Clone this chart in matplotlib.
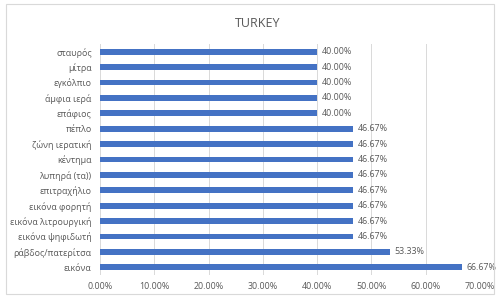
import matplotlib
matplotlib.use("Agg")
import matplotlib.pyplot as plt
from matplotlib.ticker import FuncFormatter, MultipleLocator
from matplotlib.patches import Rectangle

categories = ["εικόνα", "ράβδος/πατερίτσα", "εικόνα ψηφιδωτή", "εικόνα λιτρουργική",
              "εικόνα φορητή", "επιτραχήλιο", "λυπηρά (τα))", "κέντημα", "ζώνη ιερατική",
              "πέπλο", "επάφιος", "άμφια ιερά", "εγκόλπιο", "μίτρα", "σταυρός"]
values = [0.6667, 0.5333, 0.4667, 0.4667, 0.4667, 0.4667, 0.4667, 0.4667, 0.4667,
          0.4667, 0.40, 0.40, 0.40, 0.40, 0.40]
title = "TURKEY"

plt.rcParams['font.family'] = ['Open Sans', 'DejaVu Sans']
txt = '#595959'
fs = 6.4

fig = plt.figure(figsize=(5, 2.97), dpi=100)
fig.patches.append(Rectangle((0.012, 0.01), 0.976, 0.975, transform=fig.transFigure,
                             fill=False, edgecolor='#d9d9d9', linewidth=0.8))
ax = fig.add_axes([0.2, 0.074, 0.76, 0.778])

y = range(len(categories))
ax.barh(y, values, height=0.38, color='#4472C4', zorder=3)
for i, v in enumerate(values):
    ax.text(v + 0.009, i, f"{v*100:.2f}%", va='center', ha='left', fontsize=fs, color=txt)

ax.set_yticks(list(y))
ax.set_yticklabels(categories, fontsize=fs, color=txt)
ax.set_ylim(-0.5, len(categories) - 0.5)
ax.set_xlim(0, 0.70)
ax.xaxis.set_major_locator(MultipleLocator(0.1))
ax.xaxis.set_major_formatter(FuncFormatter(lambda x, p: f"{x*100:.2f}%"))
ax.tick_params(axis='x', labelsize=fs, colors=txt, length=0, pad=5)
ax.tick_params(axis='y', length=0, pad=6)
ax.grid(axis='x', color='#d9d9d9', linewidth=0.7, zorder=0)
for s in ax.spines.values():
    s.set_visible(False)
fig.text(0.515, 0.922, title, ha='center', va='center', fontsize=9, color=txt)

fig.savefig("out.png", dpi=100)
